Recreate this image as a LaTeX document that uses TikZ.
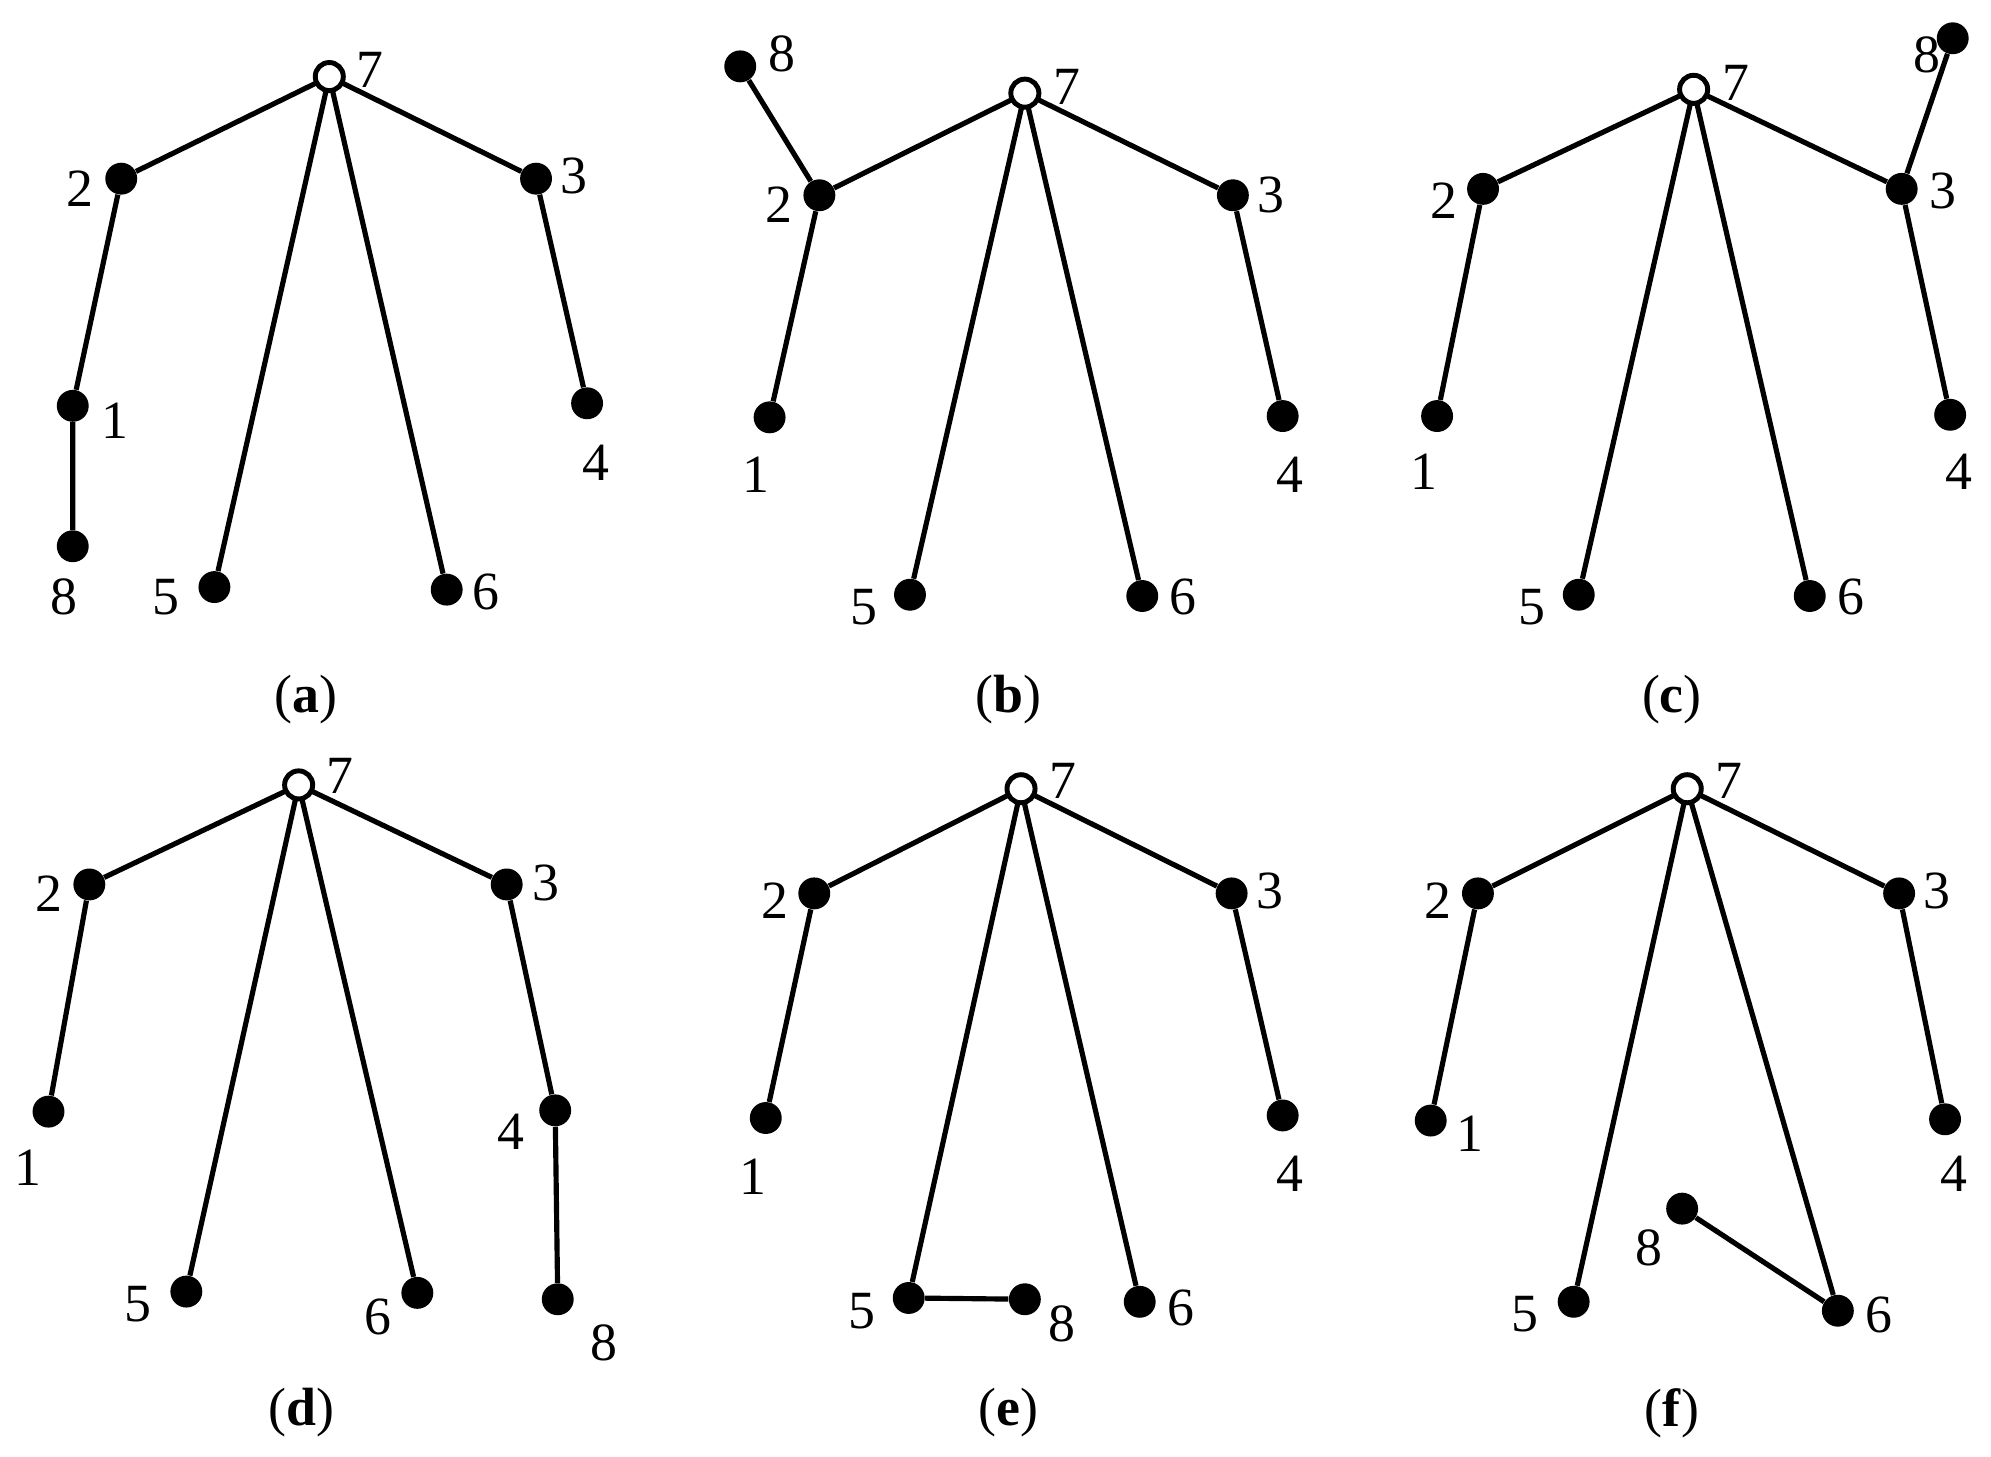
\documentclass[tikz,border=0pt]{standalone}
\usepackage{fontspec}
\setmainfont{Liberation Serif}
\begin{document}
\begin{tikzpicture}[x=0.02cm,y=-0.02cm,
  v/.style={circle,fill=black,inner sep=0pt,minimum size=0.5cm},
  r/.style={circle,draw=black,fill=white,line width=2.2pt,inner sep=0pt,minimum size=0.44cm},
  e/.style={line width=2.3pt},
  lb/.style={font=\fontsize{24}{28}\selectfont,inner sep=0pt},
  captxt/.style={font=\fontsize{24}{28}\selectfont,inner sep=0pt}]
\useasboundingbox (0,0) rectangle (1560,1141);
% panel a
\node[v] (a2) at (95,140) {}; \node[v] (a3) at (420,140) {};
\node[v] (a1) at (57,318) {}; \node[v] (a4) at (460,316) {};
\node[v] (a8) at (57,428) {}; \node[v] (a5) at (168,460) {};
\node[v] (a6) at (350,462) {};
\draw[e] (a2)--(258,60)--(a3); \draw[e] (a5)--(258,60)--(a6);
\draw[e] (a2)--(a1)--(a8); \draw[e] (a3)--(a4);
\node[r] (a7) at (258,60) {};
\node[lb] (la7) at (290,55) {7}; \node[lb] (la2) at (63,148) {2}; \node[lb] (la3) at (450,138) {3};
\node[lb] (la1) at (90,330) {1}; \node[lb] (la4) at (467,363) {4}; \node[lb] (la8) at (50,468) {8};
\node[lb] (la5) at (130,468) {5}; \node[lb] (la6) at (381,464) {6};
\node[captxt] (ca) at (240,548) {(\textbf{a})};
% panel b
\node[v] (b2) at (642,153) {}; \node[v] (b3) at (966,153) {};
\node[v] (b1) at (603,327) {}; \node[v] (b4) at (1005,326) {};
\node[v] (b8) at (580,52) {}; \node[v] (b5) at (713,466) {};
\node[v] (b6) at (895,467) {};
\draw[e] (b2)--(803,73)--(b3); \draw[e] (b5)--(803,73)--(b6);
\draw[e] (b8)--(b2)--(b1); \draw[e] (b3)--(b4);
\node[r] (b7) at (803,73) {};
\node[lb] (lb7) at (836,68) {7}; \node[lb] (lb2) at (610,160) {2}; \node[lb] (lb3) at (996,153) {3};
\node[lb] (lb1) at (592,372) {1}; \node[lb] (lb4) at (1011,372) {4}; \node[lb] (lb8) at (613,42) {8};
\node[lb] (lb5) at (677,476) {5}; \node[lb] (lb6) at (927,468) {6};
\node[captxt] (cb) at (790,548) {(\textbf{b})};
% panel c
\node[v] (c2) at (1162,148) {}; \node[v] (c3) at (1490,148) {};
\node[v] (c1) at (1126,326) {}; \node[v] (c4) at (1528,325) {};
\node[v] (c8) at (1530,30) {}; \node[v] (c5) at (1237,466) {};
\node[v] (c6) at (1418,467) {};
\draw[e] (c2)--(1327,70)--(c3); \draw[e] (c5)--(1327,70)--(c6);
\draw[e] (c2)--(c1); \draw[e] (c8)--(c3)--(c4);
\node[r] (c7) at (1327,70) {};
\node[lb] (lc7) at (1360,65) {7}; \node[lb] (lc2) at (1131,157) {2}; \node[lb] (lc3) at (1522,150) {3};
\node[lb] (lc1) at (1116,370) {1}; \node[lb] (lc4) at (1535,370) {4}; \node[lb] (lc8) at (1510,43) {8};
\node[lb] (lc5) at (1200,476) {5}; \node[lb] (lc6) at (1450,468) {6};
\node[captxt] (cc) at (1310,548) {(\textbf{c})};
% panel d
\node[v] (d2) at (70,693) {}; \node[v] (d3) at (397,693) {};
\node[v] (d1) at (38,871) {}; \node[v] (d4) at (435,870) {};
\node[v] (d8) at (437,1018) {}; \node[v] (d5) at (146,1012) {};
\node[v] (d6) at (327,1013) {};
\draw[e] (d2)--(234,615)--(d3); \draw[e] (d5)--(234,615)--(d6);
\draw[e] (d2)--(d1); \draw[e] (d3)--(d4)--(d8);
\node[r] (d7) at (234,615) {};
\node[lb] (ld7) at (266,608) {7}; \node[lb] (ld2) at (38,700) {2}; \node[lb] (ld3) at (428,692) {3};
\node[lb] (ld1) at (22,915) {1}; \node[lb] (ld4) at (400,887) {4}; \node[lb] (ld8) at (473,1052) {8};
\node[lb] (ld5) at (108,1022) {5}; \node[lb] (ld6) at (296,1032) {6};
\node[captxt] (cd) at (236,1107) {(\textbf{d})};
% panel e
\node[v] (e2) at (638,700) {}; \node[v] (e3) at (965,700) {};
\node[v] (e1) at (600,876) {}; \node[v] (e4) at (1005,874) {};
\node[v] (e5) at (712,1017) {}; \node[v] (e8) at (803,1018) {};
\node[v] (e6) at (893,1020) {};
\draw[e] (e2)--(800,618)--(e3); \draw[e] (e5)--(800,618)--(e6);
\draw[e] (e2)--(e1); \draw[e] (e3)--(e4); \draw[e] (e5)--(e8);
\node[r] (e7) at (800,618) {};
\node[lb] (le7) at (833,612) {7}; \node[lb] (le2) at (607,706) {2}; \node[lb] (le3) at (995,698) {3};
\node[lb] (le1) at (590,922) {1}; \node[lb] (le4) at (1011,920) {4}; \node[lb] (le8) at (832,1037) {8};
\node[lb] (le5) at (675,1027) {5}; \node[lb] (le6) at (925,1025) {6};
\node[captxt] (ce) at (790,1107) {(\textbf{e})};
% panel f
\node[v] (f2) at (1158,700) {}; \node[v] (f3) at (1488,700) {};
\node[v] (f1) at (1121,878) {}; \node[v] (f4) at (1524,877) {};
\node[v] (f5) at (1233,1020) {}; \node[v] (f6) at (1440,1027) {};
\node[v] (f8) at (1318,947) {};
\draw[e] (f2)--(1322,618)--(f3); \draw[e] (f5)--(1322,618)--(f6);
\draw[e] (f2)--(f1); \draw[e] (f3)--(f4); \draw[e] (f8)--(f6);
\node[r] (f7) at (1322,618) {};
\node[lb] (lf7) at (1355,612) {7}; \node[lb] (lf2) at (1127,706) {2}; \node[lb] (lf3) at (1518,698) {3};
\node[lb] (lf1) at (1152,888) {1}; \node[lb] (lf4) at (1531,920) {4}; \node[lb] (lf8) at (1292,978) {8};
\node[lb] (lf5) at (1195,1030) {5}; \node[lb] (lf6) at (1472,1030) {6};
\node[captxt] (cf) at (1310,1107) {(\textbf{f})};
\end{tikzpicture}
\end{document}
